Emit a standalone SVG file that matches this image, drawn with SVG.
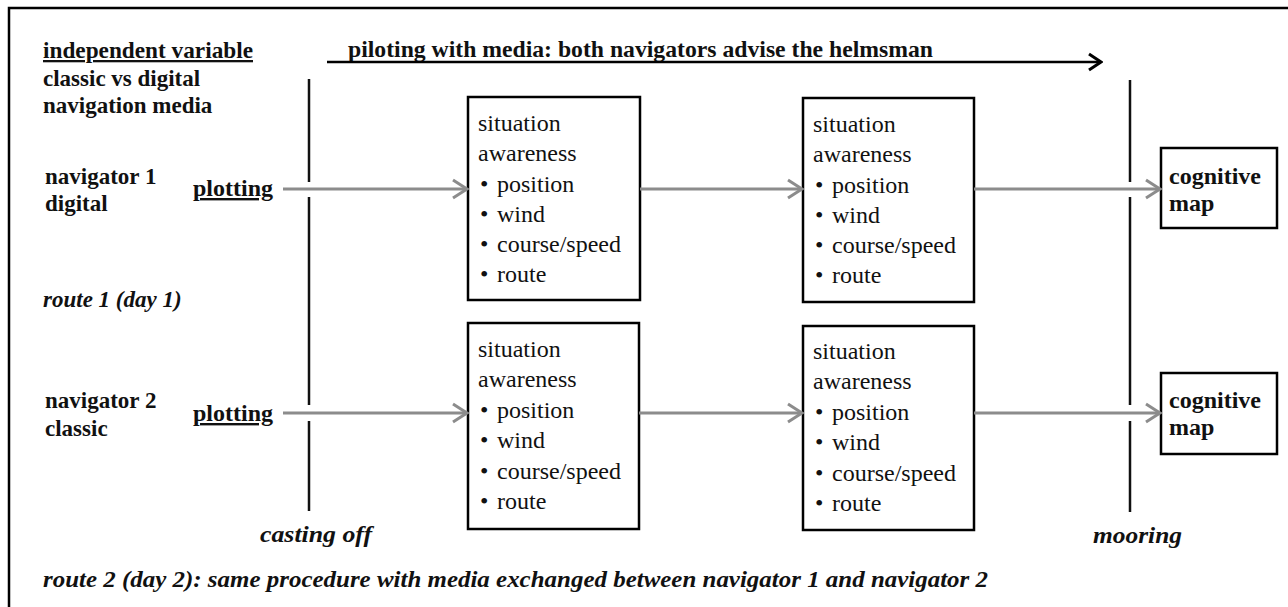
<svg xmlns="http://www.w3.org/2000/svg" width="1288" height="607" viewBox="0 0 1288 607">
<style>
.frame{fill:none;stroke:#000;stroke-width:2.5}
.box{fill:#fff;stroke:#000;stroke-width:2.5}
.vline{stroke:#111;stroke-width:2.5;fill:none}
.conn{stroke:#8c8c8c;stroke-width:3;fill:none;marker-end:url(#ga)}
.main{stroke:#000;stroke-width:2.5;fill:none;marker-end:url(#ba)}
text{font-family:'Liberation Serif','DejaVu Serif','Noto Serif',serif;fill:#111}
.lbl{font-weight:bold;font-size:23px}
.it{font-weight:bold;font-style:italic;font-size:23px}
.bt{font-size:24px}
.cm{font-weight:bold;font-size:24px}
.u{text-decoration:underline}
</style>
<defs>
<marker id="ga" markerUnits="userSpaceOnUse" viewBox="0 0 18 22" markerWidth="18" markerHeight="22" refX="16" refY="11" orient="auto">
<path d="M2,2 L16,11 L2,20" fill="none" stroke="#8c8c8c" stroke-width="3"/>
</marker>
<marker id="ba" markerUnits="userSpaceOnUse" viewBox="0 0 16 20" markerWidth="16" markerHeight="20" refX="14" refY="10" orient="auto">
<path d="M2,2 L14,10 L2,18" fill="none" stroke="#000" stroke-width="3"/>
</marker>
</defs>
<rect width="1288" height="607" fill="#fff"/>
<path class="frame" d="M9,610 V8 H1290"/>

<g id="legend">
<text class="lbl u" x="43" y="58" textLength="210" lengthAdjust="spacingAndGlyphs">independent variable</text>
<text class="lbl" x="43" y="86">classic vs digital</text>
<text class="lbl" x="43" y="113">navigation media</text>
</g>
<g id="navigator1">
<text class="lbl" x="45" y="184">navigator 1</text>
<text class="lbl" x="45" y="211">digital</text>
</g>
<g id="plotting1"><text class="cm u" x="193" y="196">plotting</text></g>
<g id="route1"><text class="it" x="43" y="307">route 1 (day 1)</text></g>
<g id="navigator2">
<text class="lbl" x="45" y="408">navigator 2</text>
<text class="lbl" x="45" y="436">classic</text>
</g>
<g id="plotting2"><text class="cm u" x="193" y="421">plotting</text></g>
<g id="castingoff"><text class="it" x="260" y="542" textLength="112" lengthAdjust="spacingAndGlyphs">casting off</text></g>
<g id="mooring"><text class="it" x="1093" y="543" textLength="89" lengthAdjust="spacingAndGlyphs">mooring</text></g>
<g id="route2"><text class="it" x="43" y="587" textLength="945" lengthAdjust="spacingAndGlyphs">route 2 (day 2): same procedure with media exchanged between navigator 1 and navigator 2</text></g>
<g id="title"><text class="lbl" x="348" y="57" textLength="585" lengthAdjust="spacingAndGlyphs">piloting with media: both navigators advise the helmsman</text></g>

<g id="sa1a">
<rect class="box" x="468" y="97" width="172" height="203"/>
<text class="bt" x="478" y="131">situation</text>
<text class="bt" x="478" y="161">awareness</text>
<text class="bt" x="480" y="192">•</text><text class="bt" x="497" y="192">position</text>
<text class="bt" x="480" y="222">•</text><text class="bt" x="497" y="222">wind</text>
<text class="bt" x="480" y="252">•</text><text class="bt" x="497" y="252">course/speed</text>
<text class="bt" x="480" y="282">•</text><text class="bt" x="497" y="282">route</text>
</g>
<g id="sa1b">
<rect class="box" x="803" y="98" width="171" height="204"/>
<text class="bt" x="813" y="132">situation</text>
<text class="bt" x="813" y="162">awareness</text>
<text class="bt" x="815" y="193">•</text><text class="bt" x="832" y="193">position</text>
<text class="bt" x="815" y="223">•</text><text class="bt" x="832" y="223">wind</text>
<text class="bt" x="815" y="253">•</text><text class="bt" x="832" y="253">course/speed</text>
<text class="bt" x="815" y="283">•</text><text class="bt" x="832" y="283">route</text>
</g>
<g id="sa2a">
<rect class="box" x="468" y="323" width="171" height="206"/>
<text class="bt" x="478" y="357">situation</text>
<text class="bt" x="478" y="387">awareness</text>
<text class="bt" x="480" y="418">•</text><text class="bt" x="497" y="418">position</text>
<text class="bt" x="480" y="448">•</text><text class="bt" x="497" y="448">wind</text>
<text class="bt" x="480" y="479">•</text><text class="bt" x="497" y="479">course/speed</text>
<text class="bt" x="480" y="509">•</text><text class="bt" x="497" y="509">route</text>
</g>
<g id="sa2b">
<rect class="box" x="803" y="326" width="171" height="204"/>
<text class="bt" x="813" y="359">situation</text>
<text class="bt" x="813" y="389">awareness</text>
<text class="bt" x="815" y="420">•</text><text class="bt" x="832" y="420">position</text>
<text class="bt" x="815" y="450">•</text><text class="bt" x="832" y="450">wind</text>
<text class="bt" x="815" y="481">•</text><text class="bt" x="832" y="481">course/speed</text>
<text class="bt" x="815" y="511">•</text><text class="bt" x="832" y="511">route</text>
</g>
<g id="cogmap1">
<rect class="box" x="1161" y="148" width="116" height="80"/>
<text class="cm" x="1169" y="184">cognitive</text>
<text class="cm" x="1169" y="211">map</text>
</g>
<g id="cogmap2">
<rect class="box" x="1161" y="373" width="116" height="81"/>
<text class="cm" x="1169" y="408">cognitive</text>
<text class="cm" x="1169" y="435">map</text>
</g>

<g id="connectors">
<path class="vline" d="M309,79 V182 M309,197 V405 M309,421 V511"/>
<path class="vline" d="M1130,80 V182 M1130,197 V405 M1130,421 V512"/>
<path class="main" d="M327,62 H1101"/>
<path class="conn" d="M283,189 H467"/>
<path class="conn" d="M640,189 H802"/>
<path class="conn" d="M974,189 H1160"/>
<path class="conn" d="M283,413 H467"/>
<path class="conn" d="M639,413 H802"/>
<path class="conn" d="M974,413 H1160"/>
</g>
</svg>
